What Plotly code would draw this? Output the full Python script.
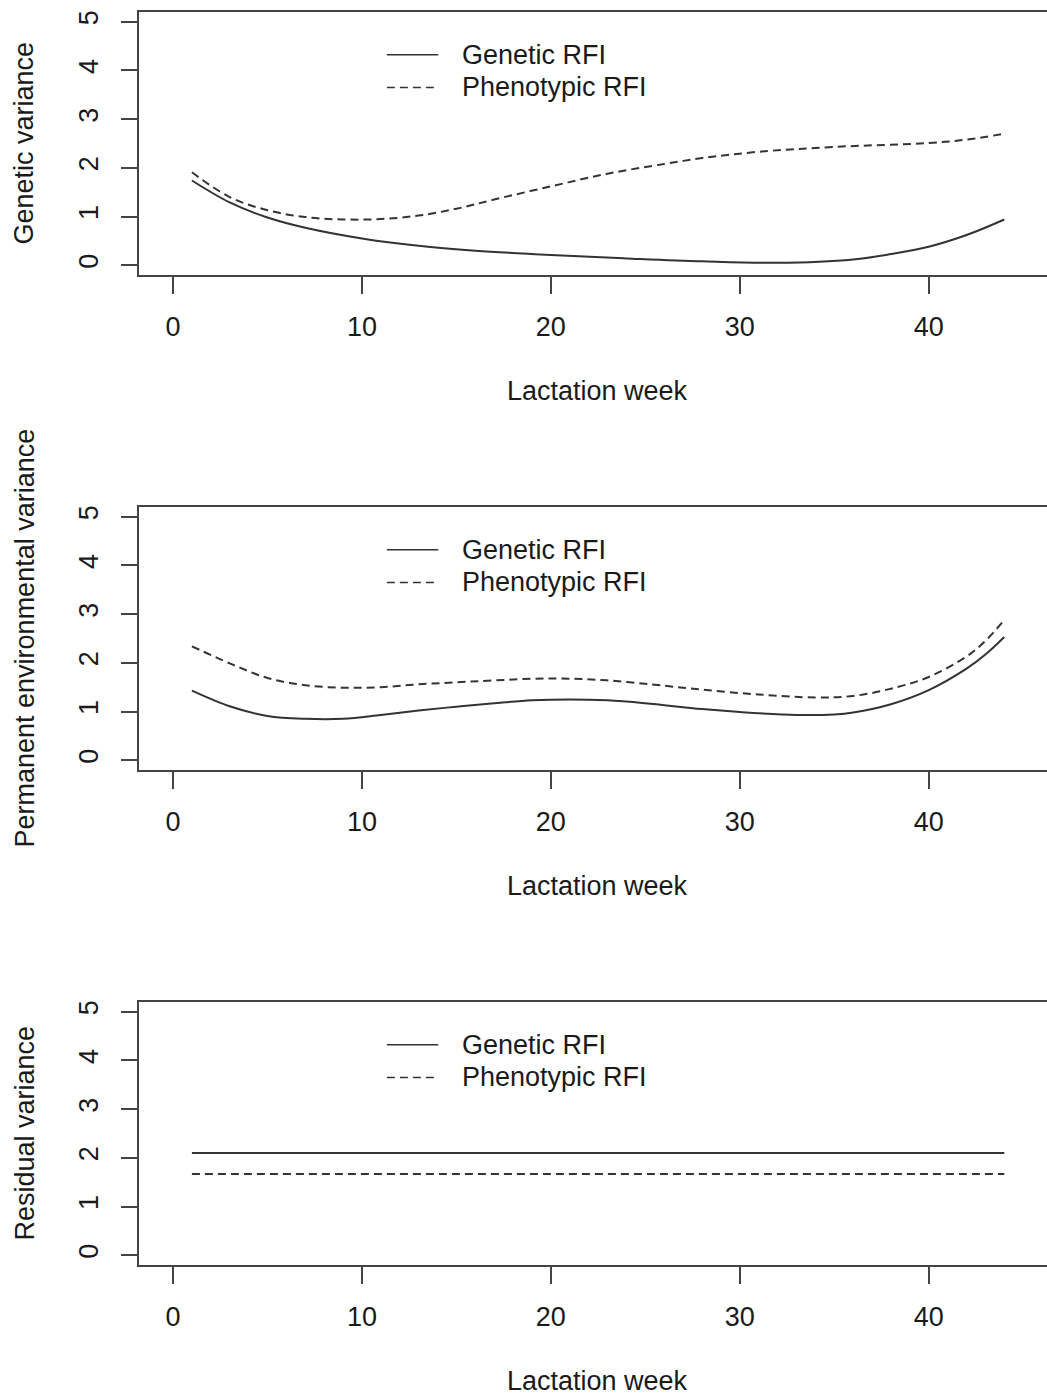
import plotly.graph_objects as go

# ---------------- data ----------------
series_names = ["Genetic RFI", "Phenotypic RFI"]
y_titles = ["Genetic variance", "Permanent environmental variance", "Residual variance"]
x_title = "Lactation week"
x_ticks = [0, 10, 20, 30, 40]
y_ticks = [0, 1, 2, 3, 4, 5]

# Panel 1 - genetic variance
p1_gen_weeks = [1, 3, 5, 7, 10, 13, 16, 20, 24, 28, 32, 36, 38, 40, 42, 44]
p1_gen_vals = [1.74, 1.29, 0.98, 0.77, 0.55, 0.40, 0.30, 0.21, 0.14, 0.08, 0.05, 0.12, 0.23, 0.38, 0.62, 0.94]
p1_phen_weeks = [1, 3, 5, 7, 9, 11, 13, 15, 17, 20, 23, 26, 28, 31, 35, 40, 42, 44]
p1_phen_vals = [1.91, 1.40, 1.13, 0.99, 0.94, 0.95, 1.02, 1.16, 1.35, 1.62, 1.88, 2.08, 2.20, 2.33, 2.43, 2.51, 2.58, 2.70]

# Panel 2 - permanent environmental variance
p2_gen_weeks = [1, 3, 5, 7, 9, 11, 13, 15, 17, 19, 21, 23, 25, 28, 30, 33, 35, 36, 38, 40, 42, 43, 44]
p2_gen_vals = [1.43, 1.11, 0.91, 0.85, 0.85, 0.93, 1.02, 1.10, 1.17, 1.23, 1.25, 1.23, 1.17, 1.05, 0.99, 0.93, 0.94, 0.98, 1.15, 1.44, 1.88, 2.17, 2.53]
p2_phen_weeks = [1, 3, 5, 7, 9, 11, 13, 15, 17, 20, 23, 26, 28, 31, 34, 36, 38, 40, 42, 43, 44]
p2_phen_vals = [2.34, 1.99, 1.69, 1.54, 1.49, 1.50, 1.56, 1.60, 1.64, 1.68, 1.64, 1.53, 1.45, 1.35, 1.29, 1.32, 1.47, 1.71, 2.13, 2.45, 2.88]

# Panel 3 - residual variance (constant)
p3_gen_weeks = [1, 44]
p3_gen_vals = [2.10, 2.10]
p3_phen_weeks = [1, 44]
p3_phen_vals = [1.67, 1.67]

panels = [
    (p1_gen_weeks, p1_gen_vals, p1_phen_weeks, p1_phen_vals),
    (p2_gen_weeks, p2_gen_vals, p2_phen_weeks, p2_phen_vals),
    (p3_gen_weeks, p3_gen_vals, p3_phen_weeks, p3_phen_vals),
]

# ---------------- layout geometry ----------------
W, H = 1047, 1396
FONT = "Liberation Sans, Arial, Helvetica, sans-serif"
FS = 27
LINE_C = "#444444"
CURVE_C = "#333333"
TXT_C = "#1a1a1a"
DASH = "8px,5px"

panel_px = [(12, 275), (507, 770), (1002, 1265)]  # top, bottom in pixels
x_left_px = 139
x_range = [-1.8, 46.26]
y_range = [-0.2, 5.2]

fig = go.Figure()
layout = dict(
    width=W, height=H,
    margin=dict(l=0, r=0, t=0, b=0),
    paper_bgcolor="white", plot_bgcolor="white",
    showlegend=False,
    font=dict(family=FONT, size=FS, color=TXT_C),
)
annotations = []
shapes = []

for i, (gw, gv, pw, pv) in enumerate(panels):
    n = "" if i == 0 else str(i + 1)
    xr, yr = "x" + n, "y" + n
    top, bot = panel_px[i]
    fig.add_trace(go.Scatter(x=gw, y=gv, mode="lines", name=series_names[0],
                             line=dict(color=CURVE_C, width=2, shape="spline", smoothing=1.0),
                             xaxis=xr, yaxis=yr))
    fig.add_trace(go.Scatter(x=pw, y=pv, mode="lines", name=series_names[1],
                             line=dict(color=CURVE_C, width=2, dash=DASH, shape="spline", smoothing=1.0),
                             xaxis=xr, yaxis=yr))
    layout["xaxis" + n] = dict(
        domain=[x_left_px / W, 1.0], range=x_range, anchor=yr,
        showline=True, linecolor=LINE_C, linewidth=1.5, mirror=True,
        ticks="outside", ticklen=17, tickwidth=1.5, tickcolor=LINE_C,
        tickvals=x_ticks, ticktext=[str(t) for t in x_ticks],
        tickfont=dict(family=FONT, size=FS, color=TXT_C),
        ticklabelstandoff=10,
        showgrid=False, zeroline=False, automargin=False, fixedrange=True,
    )
    layout["yaxis" + n] = dict(
        domain=[1 - bot / H, 1 - top / H], range=y_range, anchor=xr,
        showline=True, linecolor=LINE_C, linewidth=1.5, mirror=False,
        ticks="outside", ticklen=16, tickwidth=1.5, tickcolor=LINE_C,
        tickvals=y_ticks, ticktext=[str(t) for t in y_ticks], tickangle=-90,
        tickfont=dict(family=FONT, size=FS, color=TXT_C),
        ticklabelstandoff=12,
        showgrid=False, zeroline=False, automargin=False, fixedrange=True,
    )
    # axis titles
    annotations.append(dict(text=x_title, xref="paper", yref="paper",
                            x=597.5 / W, y=1 - (bot + 116) / H,
                            xanchor="center", yanchor="middle", showarrow=False,
                            font=dict(family=FONT, size=FS, color=TXT_C)))
    annotations.append(dict(text=y_titles[i], xref="paper", yref="paper",
                            x=24 / W, y=1 - ((top + bot) / 2) / H, textangle=-90,
                            xanchor="center", yanchor="middle", showarrow=False,
                            font=dict(family=FONT, size=FS, color=TXT_C)))
    # legend (no box), placed in data coordinates of each panel
    leg_y = [4.32, 3.65]
    for k, name in enumerate(series_names):
        shapes.append(dict(type="line", xref=xr, yref=yr, x0=11.32, x1=14.04,
                           y0=leg_y[k], y1=leg_y[k],
                           line=dict(color=CURVE_C, width=1.5, dash=None if k == 0 else DASH)))
        annotations.append(dict(text=name, xref=xr, yref=yr, x=15.2, y=leg_y[k],
                                xanchor="left", yanchor="middle", showarrow=False,
                                font=dict(family=FONT, size=FS, color=TXT_C)))

layout["annotations"] = annotations
layout["shapes"] = shapes
fig.update_layout(**layout)
fig.write_html("out.html")
